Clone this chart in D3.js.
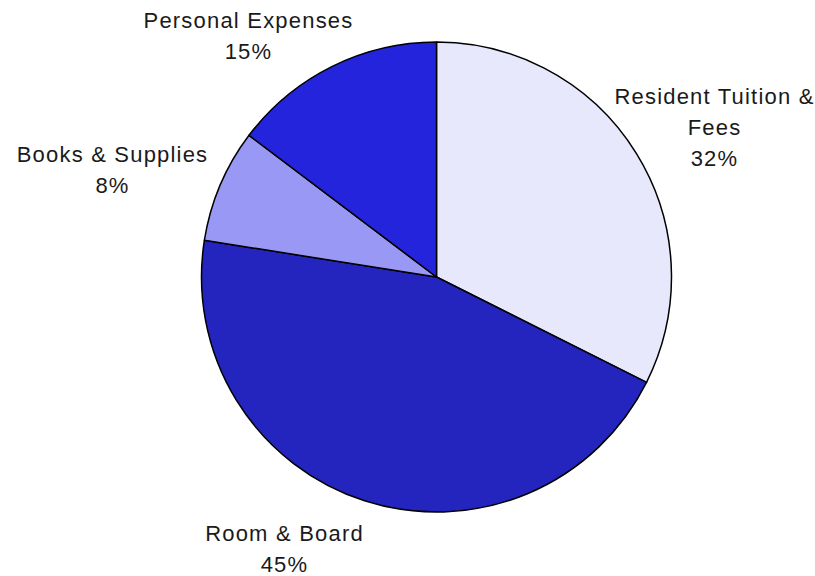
<!DOCTYPE html>
<html>
<head>
<meta charset="utf-8">
<script src="https://cdn.jsdelivr.net/npm/d3@7"></script>
<style>
  body { margin: 0; background: #fff; }
  text { font-family: 'Liberation Sans', Arial, sans-serif; font-size: 22px; fill: #1a1a1a; letter-spacing: 1.2px; }
</style>
</head>
<body>
<svg width='815' height='576'></svg>
<script>
  // slice data (percent of total cost), clockwise from 12 o'clock
  const categories = ['Resident Tuition & Fees', 'Room & Board', 'Books & Supplies', 'Personal Expenses'];
  const shares = [32.4, 45.1, 7.8, 14.7];
  const pctLabels = ['32%', '45%', '8%', '15%'];
  const labelLines = [['Resident Tuition &', 'Fees'], ['Room & Board'], ['Books & Supplies'], ['Personal Expenses']];
  const colors = ['#e8e8fc', '#2424be', '#9999f5', '#2424dd'];

  // layout
  const cx = 436.5, cy = 277, radius = 235;
  const lineH = 31;
  // label centres relative to pie centre (Excel "best fit" placement)
  const labelOffsets = [[278, -150], [-152, 272], [-324, -107], [-188, -241]];

  const svg = d3.select('svg');
  const chart = svg.append('g').attr('transform', 'translate(' + cx + ',' + cy + ')');

  const pie = d3.pie().sort(null).value(d => d);
  const arc = d3.arc().innerRadius(0).outerRadius(radius);

  const arcs = pie(shares);

  chart.selectAll('path')
      .data(arcs).enter()
      .append('path')
      .attr('d', arc)
      .attr('fill', (d, i) => colors[i])
      .attr('stroke', '#000')
      .attr('stroke-width', 1.5)
      .attr('stroke-linejoin', 'round');

  const labels = chart.selectAll('g.label')
      .data(arcs).enter()
      .append('g')
      .attr('class', 'label')
      .attr('transform', (d, i) => 'translate(' + labelOffsets[i][0] + ',' + labelOffsets[i][1] + ')');

  labels.each(function(d, i) {
    const lines = labelLines[i].concat([pctLabels[i]]);
    const top = -(lines.length - 1) * lineH / 2;
    d3.select(this).selectAll('text')
      .data(lines).enter()
      .append('text')
      .attr('text-anchor', 'middle')
      .attr('dominant-baseline', 'central')
      .attr('y', (t, j) => top + j * lineH)
      .text(t => t);
  });
</script>
</body>
</html>
